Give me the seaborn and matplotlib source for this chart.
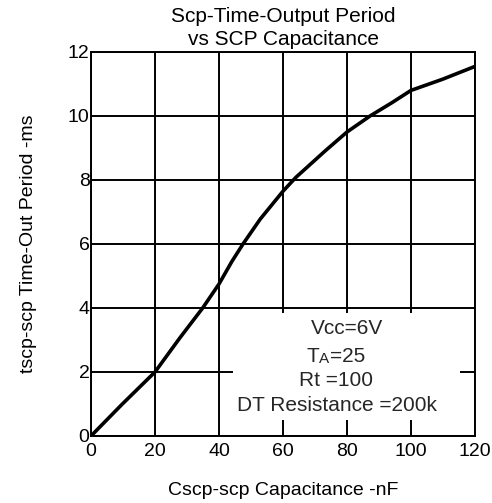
import matplotlib
matplotlib.use("Agg")
import matplotlib.pyplot as plt
import seaborn as sns
import pandas as pd

cap_nf = [0, 9.6, 20, 27.8, 34.9, 40, 44, 47.5, 52.9, 60, 64, 73.3, 80, 87.2, 94.1, 100, 109.9, 120]
period_ms = [0, 0.98, 2.0, 3.07, 4.0, 4.75, 5.45, 6.0, 6.78, 7.65, 8.08, 8.92, 9.5, 10.0, 10.42, 10.8, 11.15, 11.55]
x_ticks = [0, 20, 40, 60, 80, 100, 120]
y_ticks = [0, 2, 4, 6, 8, 10, 12]

sns.set_theme(style="white")
plt.rcParams['font.family'] = ['Liberation Sans', 'DejaVu Sans']

fig = plt.figure(figsize=(4.92, 5.03), dpi=100)
ax = fig.add_axes([91/492, 1-436/503, 384/492, 384/503])

df = pd.DataFrame({"x": cap_nf, "y": period_ms})
sns.lineplot(data=df, x="x", y="y", ax=ax, color="black", linewidth=2.6, zorder=3)

ax.set_xlim(0, 120)
ax.set_ylim(0, 12)
ax.set_xticks(x_ticks)
ax.set_yticks(y_ticks)
ax.tick_params(axis="y", length=0, pad=1, labelsize=14, colors="black")
ax.tick_params(axis="x", length=0, pad=5, labelsize=14, colors="black")
ax.grid(True, color="black", linewidth=1.4)
for s in ax.spines.values():
    s.set_color("black")
    s.set_linewidth(1.4)
    s.set_visible(True)

ax.set_xlabel("Cscp-scp Capacitance -nF", fontsize=14, labelpad=16, color="black")
ax.set_ylabel("tscp-scp Time-Out Period -ms", fontsize=14, labelpad=22, color="black")
ax.set_title("Scp-Time-Output Period\nvs SCP Capacitance", fontsize=15, pad=5, color="black", linespacing=1.3)

# annotation box
ax.add_patch(plt.Rectangle((44.4, 0.5), 70.9, 3.33, facecolor="white", edgecolor="none", zorder=4))
ax.text(79.9, 3.375, "Vcc=6V", ha="center", va="center", fontsize=15, zorder=5)
t1 = ax.text(67.4, 2.32, "T", ha="left", va="baseline", fontsize=15, zorder=5)
t2 = ax.annotate("A", xy=(1, 0), xycoords=t1, ha="left", va="bottom", fontsize=11, zorder=5)
ax.annotate("=25", xy=(1, 0), xycoords=t2, ha="left", va="bottom", fontsize=15, zorder=5)
ax.text(76.5, 1.75, "Rt =100", ha="center", va="center", fontsize=15, zorder=5)
ax.text(76.8, 0.95, "DT Resistance =200k", ha="center", va="center", fontsize=15, zorder=5)

fig.savefig("out.png", dpi=100)
